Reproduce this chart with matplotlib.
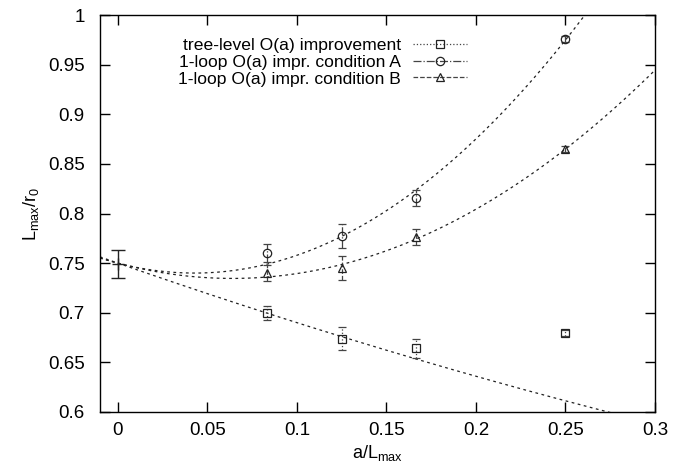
import numpy as np
import matplotlib
matplotlib.use('Agg')
import matplotlib.pyplot as plt
from matplotlib.lines import Line2D
from matplotlib.ticker import FormatStrFormatter

plt.rcParams['font.family'] = ['Liberation Sans', 'DejaVu Sans']
plt.rcParams['mathtext.default'] = 'regular'

# ---- data ----
x = [1/12, 1/8, 1/6, 1/4]

tree_y = [0.700, 0.674, 0.664, 0.680]
tree_err = [0.007, 0.012, 0.010, 0.003]

loopA_y = [0.760, 0.777, 0.816, 0.976]
loopA_err = [0.009, 0.012, 0.008, 0.003]

loopB_y = [0.740, 0.745, 0.776, 0.865]
loopB_err = [0.008, 0.012, 0.008, 0.003]

cont_x = [0.0]
cont_y = [0.749]
cont_err = [0.014]

# fit curves c0 + c1*x + c2*x^2
fit_tree = [0.75, -0.63, 0.30]
fit_A = [0.75, -0.468, 5.47]
fit_B = [0.75, -0.482, 3.768]

labels = ['tree-level O(a) improvement',
          '1-loop O(a) impr. condition A',
          '1-loop O(a) impr. condition B']

fig = plt.figure(figsize=(6.83, 4.71), dpi=100)
ax = fig.add_axes([0.1464, 0.1253, 0.8126, 0.8427])

xx = np.linspace(-0.01, 0.3, 400)
for c in (fit_tree, fit_A, fit_B):
    yy = c[0] + c[1]*xx + c[2]*xx**2
    ax.plot(xx, yy, color='#222222', lw=0.9, dashes=(2.2, 2.8))

sets = [(tree_y, tree_err, 's', ':'),
        (loopA_y, loopA_err, 'o', '-.'),
        (loopB_y, loopB_err, '^', '--')]
handles = []
for (yv, ev, mk, ls), lab in zip(sets, labels):
    eb = ax.errorbar(x, yv, yerr=ev, fmt=mk, ms=6, mfc='none', mec='#222222',
                     mew=0.9, ecolor='#444444', elinewidth=0.9, capsize=3,
                     capthick=0.9)
    eb[2][0].set_linestyle(ls)
    handles.append(Line2D([], [], color='#444444', ls=ls, lw=0.9, marker=mk,
                          ms=6, mfc='none', mec='#222222', mew=0.9))

ax.errorbar(cont_x, cont_y, yerr=cont_err, fmt='+', ms=8, color='#222222',
            elinewidth=1.0, capsize=5, capthick=1.0)

ax.set_xlim(-0.01, 0.3)
ax.set_ylim(0.6, 1.0)
ax.set_xticks(np.arange(0, 0.301, 0.05))
ax.set_yticks(np.arange(0.6, 1.001, 0.05))
ax.xaxis.set_major_formatter(FormatStrFormatter('%g'))
ax.yaxis.set_major_formatter(FormatStrFormatter('%g'))
ax.tick_params(direction='in', length=7, width=1, top=True, right=True,
               labelsize=13.5)
ax.tick_params(axis='x', pad=7)
ax.tick_params(axis='y', pad=11)
for s in ax.spines.values():
    s.set_linewidth(1)

ax.set_xlabel(r'a/L$_{max}$', fontsize=13, labelpad=3)
ax.set_ylabel(r'L$_{max}$/r$_0$', fontsize=13, labelpad=5)

leg = ax.legend(handles, labels, loc='upper right', markerfirst=False,
                frameon=False, fontsize=12.6, handlelength=3.1,
                labelspacing=0.08, handletextpad=0.7, borderpad=0.4,
                bbox_to_anchor=(0.69, 0.982))

fig.savefig('out.png', dpi=100)
